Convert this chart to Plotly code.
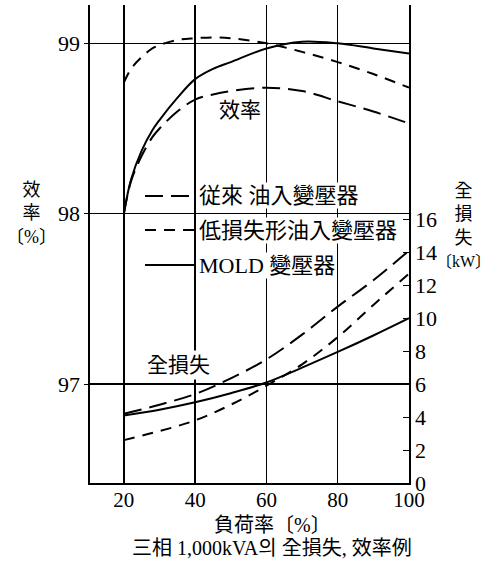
import plotly.graph_objects as go

# ---- data ----
load_eff = [20, 22, 25, 28, 30, 35, 40, 45, 50, 60, 70, 80, 90, 100]
eff_conventional = [98.00, 98.19, 98.34, 98.45, 98.50, 98.60, 98.67, 98.70, 98.72, 98.74, 98.72, 98.66, 98.60, 98.53]
eff_lowloss = [98.77, 98.85, 98.92, 98.97, 98.99, 99.02, 99.03, 99.035, 99.03, 99.00, 98.95, 98.89, 98.82, 98.74]
eff_mold = [98.00, 98.20, 98.37, 98.49, 98.55, 98.68, 98.79, 98.85, 98.89, 98.97, 99.01, 99.00, 98.97, 98.94]

load_loss = [20, 30, 40, 50, 60, 70, 80, 90, 100]
loss_conventional = [4.2, 4.75, 5.4, 6.35, 7.5, 9.0, 10.7, 12.3, 14.1]
loss_lowloss = [2.6, 3.15, 3.8, 4.75, 5.9, 7.2, 8.85, 10.8, 12.7]
loss_mold = [4.1, 4.45, 4.9, 5.45, 6.1, 7.0, 7.95, 8.95, 10.0]

x_ticks = [20, 40, 60, 80, 100]
eff_ticks = [97, 98, 99]
loss_ticks = [0, 2, 4, 6, 8, 10, 12, 14, 16]

names = ["従來 油入變壓器", "低損失形油入變壓器", "MOLD 變壓器"]

SERIF = "Liberation Serif, Noto Sans CJK KR, Noto Sans CJK JP"
DASH_CONV = "18px,8px"
DASH_LOW = "11px,8px"
LW = 2

fig = go.Figure()
for y, d in [(eff_conventional, DASH_CONV), (eff_lowloss, DASH_LOW), (eff_mold, "solid")]:
    fig.add_trace(go.Scatter(x=load_eff, y=y, mode="lines", line=dict(color="black", width=LW, dash=d, shape="spline"),
                             showlegend=False, hoverinfo="skip", yaxis="y"))
for y, d in [(loss_conventional, DASH_CONV), (loss_lowloss, DASH_LOW), (loss_mold, "solid")]:
    fig.add_trace(go.Scatter(x=load_loss, y=y, mode="lines", line=dict(color="black", width=LW, dash=d, shape="spline"),
                             showlegend=False, hoverinfo="skip", yaxis="y2"))

L, R, T, B = 90, 84, 5, 90
W, H = 493, 573
pw, ph = W - L - R, H - T - B


def px(xp):
    return (xp - L) / pw


def py(yp):
    return (H - B - yp) / ph


fig.update_layout(
    width=W, height=H,
    margin=dict(l=L, r=R, t=T, b=B),
    paper_bgcolor="white", plot_bgcolor="white",
    font=dict(family=SERIF, color="black", size=20),
    xaxis=dict(range=[10.5, 100], tickvals=x_ticks, ticktext=[str(v) for v in x_ticks],
               showgrid=True, gridcolor="black", gridwidth=1.4,
               showline=True, linecolor="black", linewidth=1.6, ticks="", zeroline=False,
               tickfont=dict(size=21, family=SERIF)),
    yaxis=dict(range=[96.42, 99.225], tickvals=eff_ticks, ticktext=[str(v) for v in eff_ticks],
               showgrid=True, gridcolor="black", gridwidth=1.4,
               showline=True, linecolor="black", linewidth=1.6, ticks="outside", ticklen=4,
               tickcolor="black", zeroline=False, tickfont=dict(size=22, family=SERIF)),
    yaxis2=dict(range=[0, 29], overlaying="y", side="right", tickvals=loss_ticks,
                ticktext=[str(v) for v in loss_ticks], showgrid=False,
                showline=True, linecolor="black", linewidth=1.6, ticks="inside", ticklen=6,
                tickcolor="black", zeroline=False, tickfont=dict(size=22, family=SERIF)),
)
try:
    fig.update_xaxes(ticklabelstandoff=-3)
except Exception:
    pass

# legend keys
legend_rows = [(196, DASH_CONV), (230, DASH_LOW), (265, "solid")]
for yp, d in legend_rows:
    fig.add_shape(type="line", xref="paper", yref="paper", x0=px(145), x1=px(196), y0=py(yp), y1=py(yp),
                  line=dict(color="black", width=LW, dash=d))

for name, (yp, _) in zip(names, legend_rows):
    fig.add_annotation(x=px(198), y=py(yp), xref="paper", yref="paper", text=name, showarrow=False,
                       xanchor="left", yanchor="middle", bgcolor="white", borderpad=0,
                       font=dict(size=22, family=SERIF))


def label(xp, yp, text, size, bg=None, pad=1):
    kw = dict(bgcolor=bg) if bg else {}
    fig.add_annotation(x=px(xp), y=py(yp), xref="paper", yref="paper", text=text, showarrow=False,
                       xanchor="center", yanchor="middle", borderpad=pad, font=dict(size=size, family=SERIF), **kw)


# in-plot labels
label(240, 110, "效率", 21, "white", 2)
label(178, 365, "全損失", 21, "white", 2)

# axis titles
label(31, 213, "效<br>率<br>〔%〕", 18)
label(464, 225, "全<br>損<br>失<br><span style='font-size:16px'>〔kW〕</span>", 18)
label(272, 525, "負荷率〔%〕", 20)
label(272, 548, "三相 1,000kVA의 全損失, 效率例", 20)

fig.write_html("out.html", config={"displayModeBar": False, "staticPlot": True},
               post_script="document.body.style.margin='0';document.body.style.padding='0';")
